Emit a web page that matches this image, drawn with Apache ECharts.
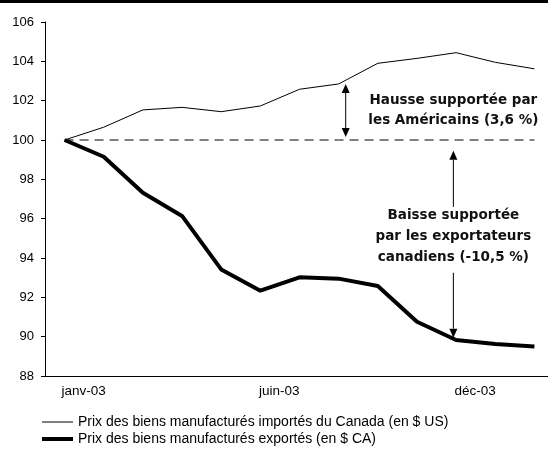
<!DOCTYPE html>
<html>
<head>
<meta charset="utf-8">
<script src="https://cdn.jsdelivr.net/npm/echarts@6/dist/echarts.min.js"></script>
<style>
  html, body { margin: 0; padding: 0; background: #fff; }
  #chart { width: 548px; height: 452px; }
</style>
</head>
<body>
<div id="chart"></div>
<script>
// monthly index, janv-03 = 100
const months = ["janv-03", "févr-03", "mars-03", "avr-03", "mai-03", "juin-03", "juil-03",
  "août-03", "sept-03", "oct-03", "nov-03", "déc-03", "janv-04"];
// labels sit on the tick marks between categories (tick n = right edge of category n-1)
const tickLabels = { 1: "janv-03", 6: "juin-03", 11: "déc-03" };
const importsUS = [100, 100.65, 101.53, 101.66, 101.44, 101.73, 102.58, 102.85, 103.9, 104.15, 104.44, 103.95, 103.62];
const exportsCA = [100, 99.15, 97.32, 96.14, 93.42, 92.34, 93.02, 92.95, 92.58, 90.76, 89.83, 89.63, 89.5];
const baseline = [100, 100, 100, 100, 100, 100, 100, 100, 100, 100, 100, 100, 100];
const yTicks = { min: 88, max: 106, step: 2 };

const nameUS = "Prix des biens manufacturés importés du Canada (en $ US)";
const nameCA = "Prix des biens manufacturés exportés (en $ CA)";
const font = "'Liberation Sans', Arial, sans-serif";
const boldFont = "'DejaVu Sans', 'Liberation Sans', sans-serif";

const chart = echarts.init(document.getElementById("chart"));

const legendBase = {
  orient: "vertical",
  left: 37,
  itemWidth: 31,
  icon: "rect",
  textStyle: { fontFamily: font, fontSize: 14, color: "#000" }
};

const option = {
  animation: false,
  backgroundColor: "#fff",
  textStyle: { fontFamily: font },
  grid: {
    left: 45,
    top: 22,
    width: 509,
    height: 354,
    containLabel: false,
    outerBoundsMode: "none"
  },
  legend: [
    Object.assign({}, legendBase, { data: [nameUS], top: 410, itemHeight: 1 }),
    Object.assign({}, legendBase, { data: [nameCA], top: 427, itemHeight: 4 })
  ],
  xAxis: {
    type: "category",
    data: months,
    boundaryGap: true,
    axisLine: { lineStyle: { color: "#000", width: 1 } },
    axisTick: { interval: 0, length: 4, lineStyle: { color: "#000" } },
    axisLabel: {
      interval: (i) => tickLabels[i + 1] !== undefined,
      formatter: (v, i) => tickLabels[i + 1] || "",
      color: "#000",
      fontSize: 13.5,
      fontFamily: font,
      margin: 8,
      padding: [0, 0, 0, 38]
    },
    splitLine: { show: false }
  },
  yAxis: {
    type: "value",
    min: yTicks.min,
    max: yTicks.max,
    interval: yTicks.step,
    axisLine: { show: true, lineStyle: { color: "#000", width: 1 } },
    axisTick: { show: true, length: 4, lineStyle: { color: "#000" } },
    axisLabel: { color: "#000", fontSize: 13, fontFamily: font, margin: 11 },
    splitLine: { show: false }
  },
  series: [
    {
      name: nameUS,
      type: "line",
      data: importsUS,
      symbol: "none",
      color: "#000",
      lineStyle: { color: "#000", width: 1 },
      z: 3
    },
    {
      name: nameCA,
      type: "line",
      data: exportsCA,
      symbol: "none",
      color: "#000",
      lineStyle: { color: "#000", width: 4 },
      z: 3
    },
    {
      name: "base",
      type: "line",
      data: baseline,
      symbol: "none",
      color: "#000",
      lineStyle: { color: "#000", width: 1, type: [9, 6] },
      z: 2
    }
  ]
};
chart.setOption(option);

// annotations placed with the chart's own scales
const px = (i, v) => chart.convertToPixel({ gridIndex: 0 }, [i, v]);

// vertical arrow from y1 (top) to y2 (bottom); heads: "both", "up" or "down"
function arrow(x, y1, y2, heads) {
  const h = 9, w = 4;
  const top = heads === "down" ? y1 : y1 + h;
  const bottom = heads === "up" ? y2 : y2 - h;
  const els = [{
    type: "line",
    shape: { x1: x, y1: top, x2: x, y2: bottom },
    style: { stroke: "#000", lineWidth: 1 }
  }];
  if (heads !== "up") {
    els.push({ type: "polygon", shape: { points: [[x - w, y2 - h], [x + w, y2 - h], [x, y2]] }, style: { fill: "#000" } });
  }
  if (heads !== "down") {
    els.push({ type: "polygon", shape: { points: [[x - w, y1 + h], [x + w, y1 + h], [x, y1]] }, style: { fill: "#000" } });
  }
  return els;
}

function buildGraphics() {
  const x0 = px(0, 100)[0];
  const step = px(1, 100)[0] - x0;
  const xa = x0 + 7.18 * step;
  const xb = x0 + 9.93 * step;
  const y = (v) => px(0, v)[1];
  const boldText = {
    fontFamily: boldFont, fontSize: 13.5, fontWeight: "bold", fill: "#111",
    align: "center", verticalAlign: "middle", lineHeight: 21
  };
  let els = [
    { type: "rect", shape: { x: 0, y: 0, width: 548, height: 3 }, style: { fill: "#000" } }
  ];
  els = els.concat(arrow(xa, y(102.85), y(100.15), "both"));
  els = els.concat(arrow(xb, y(99.45), y(96.6), "up"));
  els = els.concat(arrow(xb, y(93.25), y(89.95), "down"));
  els.push({
    type: "text",
    style: Object.assign({}, boldText, { text: "Hausse supportée par\nles Américains (3,6 %)", x: xb, y: y(101.48), lineHeight: 20 })
  });
  els.push({
    type: "text",
    style: Object.assign({}, boldText, { text: "Baisse supportée\npar les exportateurs\ncanadiens (-10,5 %)", x: xb, y: y(95.1) })
  });
  return els;
}

chart.setOption({ graphic: { elements: buildGraphics() } });
</script>
</body>
</html>
